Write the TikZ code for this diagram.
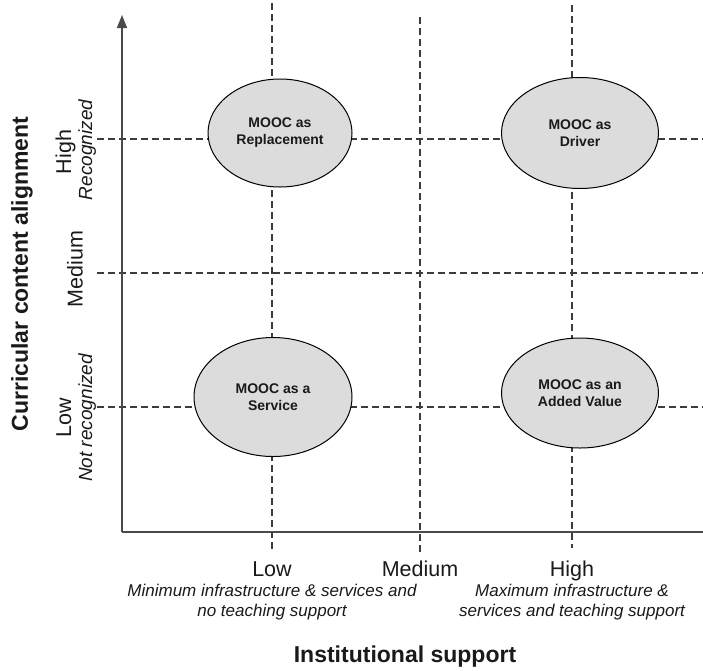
\documentclass[tikz,border=0pt]{standalone}
\usepackage{fontspec}
\setmainfont{Liberation Sans}
\usetikzlibrary{shapes.geometric,arrows.meta}
\definecolor{gridc}{HTML}{3C3C3C}
\definecolor{axisc}{HTML}{4A4A4A}
\definecolor{fillc}{HTML}{DCDCDC}
\definecolor{txt}{HTML}{1A1A1A}
\begin{document}
\begin{tikzpicture}[x=1pt,y=-1pt,
  gridline/.style={draw=gridc, line width=1.2pt, dash pattern=on 6.5pt off 4.5pt},
  axisline/.style={draw=axisc, line width=1.6pt},
  quad/.style={ellipse, draw=black, line width=1pt, fill=fillc, inner sep=0pt,
    align=center, font=\fontsize{14}{17}\selectfont\bfseries, text=txt},
  lvl/.style={font=\fontsize{21.5}{24}\selectfont, text=txt, inner sep=0pt, anchor=base},
  sublvl/.style={font=\fontsize{19}{22}\selectfont\itshape, text=txt, inner sep=0pt, anchor=base},
  note/.style={font=\fontsize{17}{20}\selectfont\itshape, text=txt, inner sep=0pt, anchor=base},
  axtitle/.style={font=\fontsize{23}{26}\selectfont\bfseries, text=txt, inner sep=0pt}
]
\useasboundingbox (0,0) rectangle (703,670);

% grid end points
\coordinate (vL1) at (272,3);   \coordinate (vL2) at (272,552);
\coordinate (vM1) at (420,17);  \coordinate (vM2) at (420,553);
\coordinate (vH1) at (572,5);   \coordinate (vH2) at (572,548);
\coordinate (hH1) at (97,139);  \coordinate (hH2) at (703,139);
\coordinate (hM1) at (97,273);  \coordinate (hM2) at (703,273);
\coordinate (hL1) at (97,407);  \coordinate (hL2) at (703,407);
\coordinate (orig) at (122,532);
\coordinate (ytop) at (122,15);
\coordinate (xend) at (703,532);

% dashed grid
\draw[gridline] (vL1) -- (vL2);
\draw[gridline] (vM1) -- (vM2);
\draw[gridline] (vH1) -- (vH2);
\draw[gridline] (hH1) -- (hH2);
\draw[gridline] (hM1) -- (hM2);
\draw[gridline] (hL1) -- (hL2);

% axes
\draw[axisline, -{Triangle[length=13pt,width=10pt]}] (orig) -- (ytop);
\draw[axisline] (orig) -- (xend);

% quadrants
\node[quad, minimum width=144pt, minimum height=108pt] (repl) at (280,133) {MOOC as\\Replacement};
\node[quad, minimum width=157pt, minimum height=111pt] (drv) at (580,133) {MOOC as\\Driver};
\node[quad, minimum width=158pt, minimum height=119pt] (serv) at (273,397) {MOOC as a\\Service};
\node[quad, minimum width=157pt, minimum height=110pt] (addv) at (580,393) {MOOC as an\\Added Value};

% vertical axis labels
\node[axtitle, rotate=90] (ytitle) at (22,274) {Curricular content alignment};
\node[lvl, rotate=90] (yhigh) at (71,152) {High};
\node[sublvl, rotate=90] (yrec) at (92,150) {Recognized};
\node[lvl, rotate=90] (ymed) at (82.5,269) {Medium};
\node[lvl, rotate=90] (ylow) at (71,418) {Low};
\node[sublvl, rotate=90] (ynrec) at (92,418) {Not recognized};

% horizontal axis labels
\node[lvl] (xlow) at (272,576) {Low};
\node[lvl] (xmed) at (420,576) {Medium};
\node[lvl] (xhigh) at (572,576) {High};
\node[note] (xlowa) at (272,596) {Minimum infrastructure \& services and};
\node[note] (xlowb) at (272,616) {no teaching support};
\node[note] (xhigha) at (572,596) {Maximum infrastructure \&};
\node[note] (xhighb) at (572,616) {services and teaching support};
\node[axtitle, anchor=base] (xtitle) at (405,662) {Institutional support};
\end{tikzpicture}
\end{document}
